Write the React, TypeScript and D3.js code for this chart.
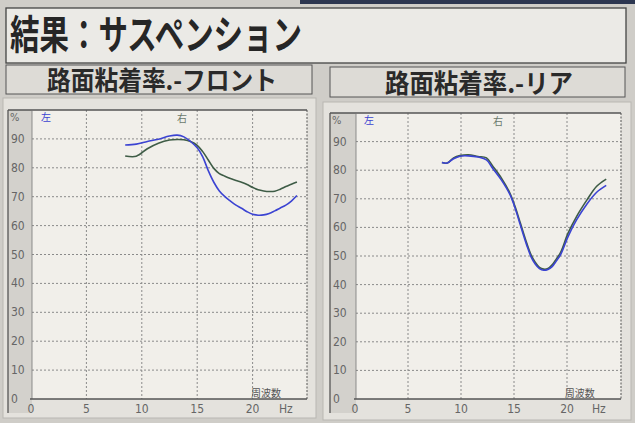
import React from "react";
import * as d3 from "d3";

const W = 635;
const H = 423;

const titleText = "結果：サスペンション";
const frontTitle = "路面粘着率.-フロント";
const rearTitle = "路面粘着率.-リア";
const leftLabel = "左";
const rightLabel = "右";
const xAxisName = "周波数";
const xUnit = "Hz";
const yUnit = "%";

const xTicks = [0, 5, 10, 15, 20];
const yTicks = [0, 10, 20, 30, 40, 50, 60, 70, 80, 90];

// Front (フロント)
const frontFreq = [8.5, 9.5, 10.5, 11.5, 12.5, 13.2, 13.8, 14.4, 15, 15.5, 16, 16.5, 17, 17.5, 18, 18.5, 19, 19.5, 20, 20.5, 21, 21.5, 22, 22.5, 23, 23.5, 24];
const frontLeft = [87.9, 88.2, 89.1, 89.9, 91.0, 91.3, 90.7, 89.1, 86.9, 83.8, 79.0, 75.0, 72.0, 70.0, 68.5, 67.1, 66.0, 64.8, 63.9, 63.6, 63.7, 64.2, 65.1, 66.1, 67.1, 68.5, 70.4];
const frontRight = [84.1, 84.0, 86.6, 88.5, 89.6, 89.8, 89.7, 89.1, 87.8, 85.6, 82.7, 79.8, 78.0, 77.1, 76.3, 75.6, 75.0, 74.2, 73.2, 72.4, 72.0, 71.8, 71.9, 72.6, 73.5, 74.3, 75.1];

// Rear (リア)
const rearFreq = [8.2, 8.7, 9.3, 9.9, 10.7, 11.6, 12.4, 13.0, 13.8, 14.6, 15.1, 15.6, 16.2, 16.6, 17.0, 17.4, 17.8, 18.2, 18.6, 19.0, 19.4, 20.1, 20.9, 21.9, 22.8, 23.7];
const rearLeft = [82.7, 82.5, 84.0, 84.9, 85.0, 84.6, 83.6, 80.6, 76.6, 71.6, 66.8, 60.8, 53.8, 49.8, 47.2, 45.6, 45.0, 45.3, 46.3, 48.3, 50.5, 56.8, 62.6, 68.3, 72.3, 74.7];
const rearRight = [82.7, 82.5, 84.3, 85.1, 85.4, 84.8, 84.3, 81.4, 77.3, 72.1, 67.3, 61.5, 54.5, 50.5, 47.8, 46.0, 45.4, 45.6, 46.9, 49.0, 51.3, 58.0, 63.8, 69.7, 74.4, 76.9];

const BLUE = "#3b43d2";
const GREEN = "#3e5c46";
const NUM_FONT = "'Liberation Sans Narrow','DejaVu Sans Condensed','Liberation Sans',sans-serif";
const JP_FONT = "'Noto Sans CJK JP','Noto Sans',sans-serif";

type ChartProps = {
  panelX: number; panelY: number; panelW: number; panelH: number;
  frameL: number; stripR: number; plotR: number; plotT: number; plotB: number;
  xr: [number, number];
  freq: number[]; left: number[]; right: number[];
  rightLabelX: number; leftLabelX: number;
};

function Chart(p: ChartProps) {
  const x = d3.scaleLinear().domain([0, 25]).range(p.xr);
  const y = d3.scaleLinear().domain([0, 100]).range([p.plotB, p.plotT]);
  const line = d3
    .line<number>()
    .x((_, i) => x(p.freq[i]))
    .y((d) => y(d))
    .curve(d3.curveCatmullRom.alpha(0.5));
  return (
    <g>
      <rect x={p.panelX} y={p.panelY} width={p.panelW} height={p.panelH} fill="#e4e2dd" stroke="#b9b7b2" />
      {/* gray strip */}
      <rect x={p.frameL} y={p.plotT} width={p.stripR - p.frameL} height={p.plotB + 14 - p.plotT} fill="#d3d1cc" />
      {/* plot area */}
      <rect x={p.stripR} y={p.plotT} width={p.plotR - p.stripR} height={p.plotB - p.plotT} fill="#f1efea" />
      {/* grid */}
      {xTicks.filter((t) => t > 0).map((t) => (
        <line key={"gx" + t} x1={x(t)} x2={x(t)} y1={p.plotT} y2={p.plotB} stroke="#8a8a8a" strokeDasharray="2,2" />
      ))}
      {yTicks.filter((t) => t > 0).map((t) => (
        <line key={"gy" + t} x1={p.stripR} x2={p.plotR} y1={y(t)} y2={y(t)} stroke="#8a8a8a" strokeDasharray="2,2" />
      ))}
      {/* frame */}
      <line x1={p.frameL} x2={p.plotR} y1={p.plotT} y2={p.plotT} stroke="#555" strokeWidth={1.3} />
      <line x1={p.frameL} x2={p.frameL} y1={p.plotT} y2={p.plotB + 14} stroke="#555" strokeWidth={1.3} />
      <line x1={p.plotR} x2={p.plotR} y1={p.plotT} y2={p.plotB} stroke="#555" strokeDasharray="2,1.5" />
      <line x1={p.stripR} x2={p.stripR} y1={p.plotT} y2={p.plotB} stroke="#777" strokeWidth={0.8} />
      <line x1={p.stripR - 2} x2={p.plotR} y1={p.plotB} y2={p.plotB} stroke="#555" strokeWidth={1.3} />
      {/* y labels */}
      <text x={p.frameL + 2} y={p.plotT + 11} fontSize={11} fontFamily={NUM_FONT} fill="#666">{yUnit}</text>
      {yTicks.filter((t) => t < 100).map((t) => (
        <text key={"yl" + t} x={p.frameL + 3} y={y(t) + 4} fontSize={12} fontFamily={NUM_FONT} fill="#666">{t}</text>
      ))}
      {/* x labels */}
      {xTicks.map((t) => (
        <text key={"xl" + t} x={x(t)} y={p.plotB + 14} fontSize={12} fontFamily={NUM_FONT} fill="#666" textAnchor="middle">{t}</text>
      ))}
      <text x={x(23)} y={p.plotB + 14} fontSize={12} fontFamily={NUM_FONT} fill="#666" textAnchor="middle">{xUnit}</text>
      <text x={x(21.2)} y={p.plotB - 2} fontSize={10} fontFamily={JP_FONT} fill="#555" textAnchor="middle">{xAxisName}</text>
      {/* legend markers */}
      <text x={p.leftLabelX} y={p.plotT + 11} fontSize={10} fontFamily={JP_FONT} fill={BLUE}>{leftLabel}</text>
      <text x={p.rightLabelX} y={p.plotT + 12} fontSize={10} fontFamily={JP_FONT} fill="#6b7a6d">{rightLabel}</text>
      {/* series */}
      <path d={line(p.right) || ""} fill="none" stroke={GREEN} strokeWidth={1.6} />
      <path d={line(p.left) || ""} fill="none" stroke={BLUE} strokeWidth={1.6} />
    </g>
  );
}

export default function App() {
  return (
    <svg width={W} height={H} style={{ display: "block", position: "absolute", left: 0, top: 0 }}>
      <rect x={0} y={0} width={W} height={H} fill="#cfcdc8" />
      <rect x={300} y={0} width={335} height={4} fill="#2c3650" />
      {/* title box */}
      <rect x={6} y={8} width={620} height={55} fill="#ebeae6" stroke="#444" strokeWidth={1.3} />
      <text x={10} y={49} fontSize={40} fontWeight="bold" fontFamily={JP_FONT} fill="#262626" textLength={292} lengthAdjust="spacingAndGlyphs">{titleText}</text>
      {/* subtitles */}
      <rect x={6} y={65} width={306} height={29} fill="#dddbd6" stroke="#555" />
      <text x={47} y={90} fontSize={26} fontWeight="bold" fontFamily={JP_FONT} fill="#2a2a2a" textLength={230} lengthAdjust="spacingAndGlyphs">{frontTitle}</text>
      <rect x={330} y={67} width={295} height={30} fill="#dddbd6" stroke="#555" />
      <text x={385} y={93} fontSize={26} fontWeight="bold" fontFamily={JP_FONT} fill="#2a2a2a" textLength={188} lengthAdjust="spacingAndGlyphs">{rearTitle}</text>
      <Chart panelX={3} panelY={98} panelW={313} panelH={320} frameL={8} stripR={32} plotR={307} plotT={110} plotB={399} xr={[31, 308]}
        freq={frontFreq} left={frontLeft} right={frontRight} leftLabelX={41} rightLabelX={177} />
      <Chart panelX={323} panelY={102} panelW={308} panelH={318} frameL={330} stripR={356} plotR={621} plotT={113} plotB={399} xr={[355, 620]}
        freq={rearFreq} left={rearLeft} right={rearRight} leftLabelX={364} rightLabelX={493} />
    </svg>
  );
}
